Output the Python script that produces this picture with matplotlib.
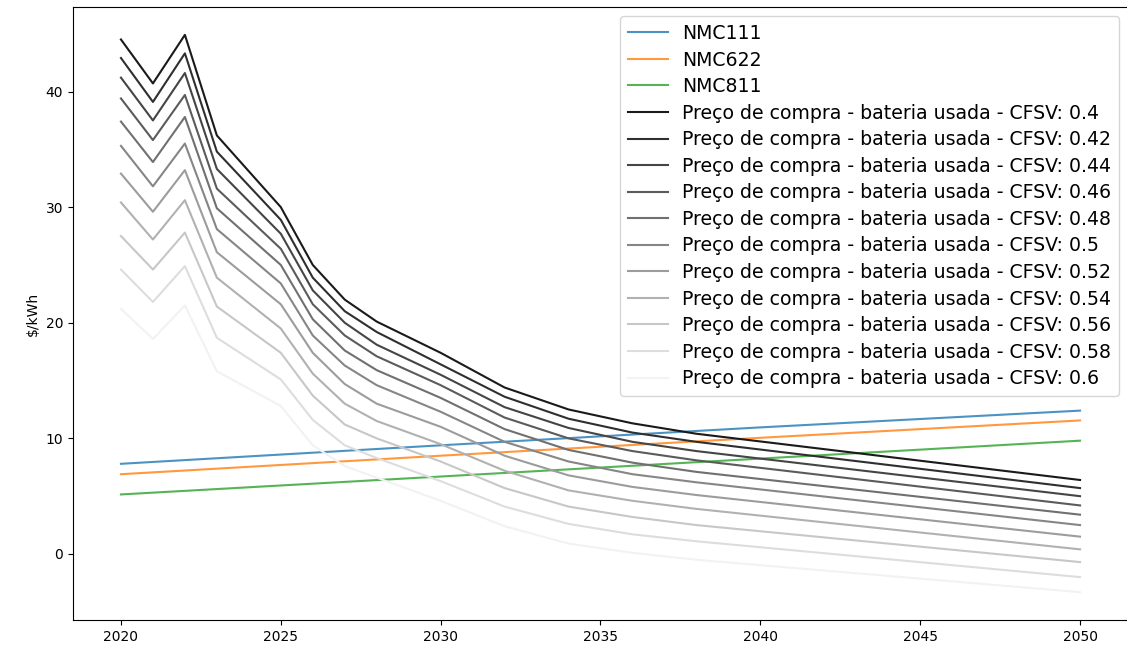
import matplotlib
matplotlib.use("Agg")
import matplotlib.pyplot as plt

# colored price series (read at a few years, they are nearly straight)
nmc_years = [2020, 2030, 2040, 2050]
nmc111 = [7.8, 9.4, 10.95, 12.4]
nmc622 = [6.9, 8.5, 10.05, 11.55]
nmc811 = [5.15, 6.7, 8.25, 9.8]

# used battery purchase price, one list per CFSV value
years = [2020, 2021, 2022, 2023, 2025, 2026, 2027, 2028, 2030, 2032, 2034, 2036, 2038, 2050]
cfsv = [0.4, 0.42, 0.44, 0.46, 0.48, 0.5, 0.52, 0.54, 0.56, 0.58, 0.6]
used_price = [
    [44.5, 40.7, 44.9, 36.2, 30.0, 25.0, 22.0, 20.1, 17.4, 14.4, 12.5, 11.3, 10.4, 6.4],
    [42.9, 39.1, 43.3, 34.8, 28.9, 23.9, 21.0, 19.2, 16.4, 13.6, 11.7, 10.5, 9.7, 5.7],
    [41.2, 37.5, 41.6, 33.3, 27.7, 22.8, 20.0, 18.1, 15.5, 12.7, 10.9, 9.7, 8.9, 5.0],
    [39.4, 35.8, 39.7, 31.6, 26.4, 21.6, 18.9, 17.1, 14.6, 11.8, 10.0, 8.9, 8.1, 4.2],
    [37.4, 33.9, 37.8, 29.9, 25.0, 20.3, 17.6, 15.9, 13.5, 10.8, 9.0, 7.9, 7.1, 3.4],
    [35.3, 31.8, 35.5, 28.1, 23.4, 18.9, 16.3, 14.6, 12.3, 9.7, 8.0, 6.9, 6.2, 2.5],
    [32.9, 29.6, 33.2, 26.1, 21.6, 17.4, 14.7, 13.0, 11.0, 8.5, 6.8, 5.8, 5.1, 1.5],
    [30.4, 27.2, 30.6, 23.9, 19.5, 15.6, 13.0, 11.5, 9.5, 7.2, 5.5, 4.6, 3.9, 0.4],
    [27.5, 24.6, 27.8, 21.4, 17.4, 13.7, 11.2, 10.0, 8.0, 5.7, 4.1, 3.2, 2.5, -0.7],
    [24.6, 21.8, 24.9, 18.7, 15.1, 11.6, 9.4, 8.3, 6.3, 4.1, 2.6, 1.7, 1.1, -2.0],
    [21.2, 18.6, 21.5, 15.8, 12.8, 9.4, 7.6, 6.6, 4.6, 2.4, 0.9, 0.1, -0.5, -3.3],
]

fig = plt.figure(figsize=(11.27, 6.59), dpi=100)
ax = fig.add_axes([73 / 1127, 39 / 659, 1055 / 1127, 613 / 659])

ax.plot(nmc_years, nmc111, label="NMC111", alpha=0.8)
ax.plot(nmc_years, nmc622, label="NMC622", alpha=0.8)
ax.plot(nmc_years, nmc811, label="NMC811", alpha=0.8)

n = len(cfsv)
for i, (c, vals) in enumerate(zip(cfsv, used_price)):
    ax.plot(years, vals, color=str(0.1 + 0.85 * i / (n - 1)),
            label=f"Preço de compra - bateria usada - CFSV: {c}")

ax.set_ylabel(r"\$/kWh")
ax.legend(loc="upper right", fontsize=13.6, labelspacing=0.4, handlelength=2.1,
          handletextpad=0.75)

fig.savefig("out.png", dpi=100)
